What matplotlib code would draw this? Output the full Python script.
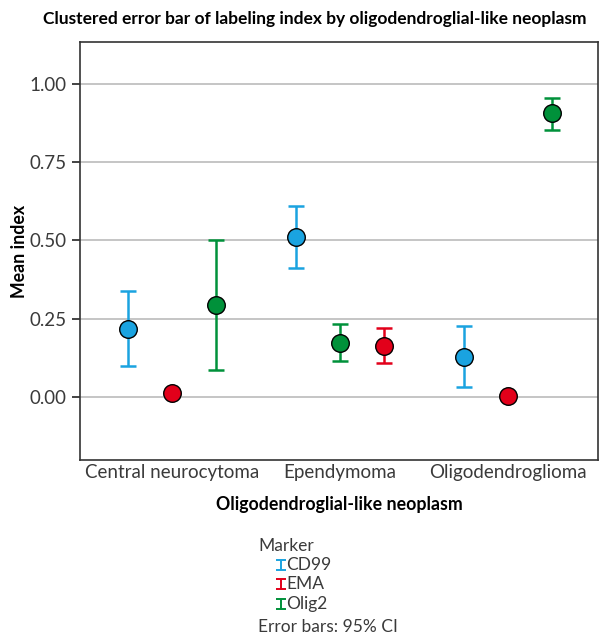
import numpy as np
import matplotlib
matplotlib.use("Agg")
import matplotlib.pyplot as plt

plt.rcParams['font.family'] = ['Lato', 'DejaVu Sans']

# data (mean and 95% CI)
categories = ['Central neurocytoma', 'Ependymoma', 'Oligodendroglioma']
markers = ['CD99', 'EMA', 'Olig2']
colors = {'CD99': '#1aa3e0', 'EMA': '#e2001a', 'Olig2': '#00913a'}

means = {'CD99': [0.217, 0.511, 0.128],
         'EMA': [0.013, 0.163, 0.003],
         'Olig2': [0.294, 0.173, 0.907]}
ci_low = {'CD99': [0.099, 0.412, 0.032],
          'EMA': [0.013, 0.109, 0.003],
          'Olig2': [0.086, 0.115, 0.853]}
ci_high = {'CD99': [0.339, 0.610, 0.227],
           'EMA': [0.013, 0.220, 0.003],
           'Olig2': [0.502, 0.233, 0.955]}
# slot within each cluster (the Ependymoma cluster has Olig2 in the middle)
slot = {'CD99': [-1, -1, -1],
        'EMA': [0, 1, 0],
        'Olig2': [1, 0, 1]}

fig = plt.figure(figsize=(6, 6.38), dpi=100)
ax = fig.add_axes([0.1333, 0.279, 0.8634, 0.6552])

x = np.arange(len(categories))
w = 0.262
for m in markers:
    xs = x + np.array(slot[m]) * w
    mu = np.array(means[m])
    lo = mu - np.array(ci_low[m])
    hi = np.array(ci_high[m]) - mu
    ax.errorbar(xs, mu, yerr=[lo, hi], fmt='none', ecolor=colors[m],
                elinewidth=1.8, capsize=5.5, capthick=1.8, zorder=3)
    ax.scatter(xs, mu, s=160, color=colors[m], edgecolor='black',
               linewidth=1.0, zorder=4)

ax.set_xlim(-0.548, 2.536)
ax.set_ylim(-0.201, 1.134)
ax.set_xticks(x)
ax.set_xticklabels(categories, fontsize=13.5, color='#3a3a3a')
ax.tick_params(axis='x', length=0, pad=3)
ax.set_yticks([0, 0.25, 0.5, 0.75, 1.0])
ax.set_yticklabels(['0.00', '0.25', '0.50', '0.75', '1.00'], fontsize=13.5, color='#3a3a3a')
ax.tick_params(axis='y', length=6, width=1.2, color='#222222', direction='out')
ax.yaxis.grid(True, color='#bbbbbb', linewidth=1.2)
ax.set_axisbelow(True)
for sp in ax.spines.values():
    sp.set_color('#333333')
    sp.set_linewidth(1.2)

ax.set_ylabel('Mean index', fontsize=12.8, fontweight='bold', labelpad=1)
ax.set_xlabel('Oligodendroglial-like neoplasm', fontsize=12.8, fontweight='bold', labelpad=11)
fig.text(0.524, 1 - 19 / 638, 'Clustered error bar of labeling index by oligodendroglial-like neoplasm',
         ha='center', va='center', fontsize=12.5, fontweight='bold')

# legend block under the chart
fig.text(258 / 600, 1 - 546 / 638, 'Marker', ha='left', va='center', fontsize=12.5, color='#3a3a3a')
lax = fig.add_axes([270 / 600, 1 - 612 / 638, 30 / 600, 56 / 638])
lax.set_xlim(0, 30)
lax.set_ylim(612, 556)
lax.axis('off')
rows = [565, 584, 604]
for m, yy in zip(markers, rows):
    lax.errorbar([11], [yy], yerr=[[5]], fmt='none', ecolor=colors[m],
                 elinewidth=1.4, capsize=3.5, capthick=1.4)
    fig.text(286 / 600, 1 - yy / 638, m, ha='left', va='center', fontsize=12.5, color='#3a3a3a')
fig.text(258 / 600, 1 - 627 / 638, 'Error bars: 95% CI', ha='left', va='center',
         fontsize=12.5, color='#3a3a3a')

fig.savefig('out.png', dpi=100)
